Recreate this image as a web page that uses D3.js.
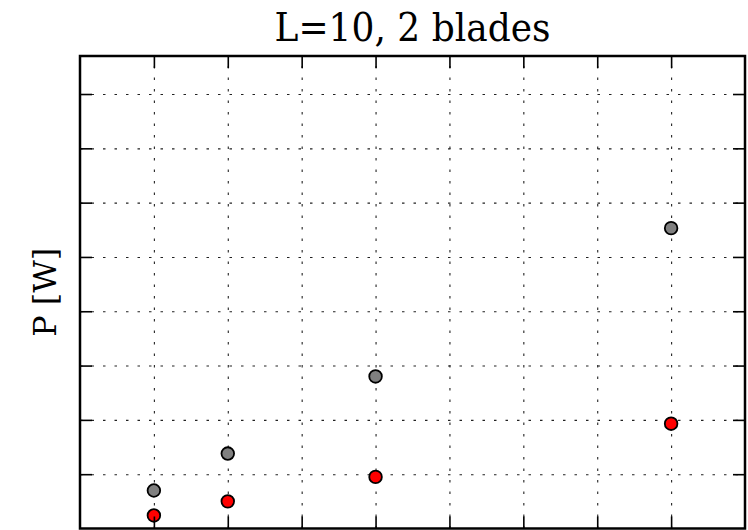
<!DOCTYPE html>
<html>
<head>
<meta charset="utf-8">
<script src="https://cdn.jsdelivr.net/npm/d3@7"></script>
<style>
  body { margin: 0; background: #fff; }
  svg { display: block; }
</style>
</head>
<body>
<svg id="chart" width="748" height="530"></svg>
<script>
// x positions of the runs and power on y (no tick labels in the source)
const xVals = [1, 2, 4, 8];
const grayVals = [0.70, 1.38, 2.80, 5.53];
const redVals = [0.24, 0.50, 0.95, 1.93];
const xTicks = [1, 2, 3, 4, 5, 6, 7, 8];
const yTicks = [1, 2, 3, 4, 5, 6, 7, 8];

const svg = d3.select("#chart");
const margin = { left: 80, right: 3, top: 56, bottom: 1.5 };
const W = 748, H = 530;

const x = d3.scaleLinear().domain([0, 9]).range([margin.left, W - margin.right]);
const y = d3.scaleLinear().domain([0, 8.7]).range([H - margin.bottom, margin.top]);

const plotW = x.range()[1] - x.range()[0];
const plotH = y.range()[0] - y.range()[1];

// dotted grid
const grid = svg.append("g").attr("class", "grid");
grid.append("g")
    .attr("transform", `translate(0,${y.range()[0]})`)
    .call(d3.axisBottom(x).tickValues(xTicks).tickSize(-plotH).tickFormat(""));
grid.append("g")
    .attr("transform", `translate(${x.range()[0]},0)`)
    .call(d3.axisLeft(y).tickValues(yTicks).tickSize(-plotW).tickFormat(""));
grid.selectAll(".domain").remove();
grid.selectAll("line")
    .attr("stroke", "#222")
    .attr("stroke-width", 1.1)
    .attr("stroke-dasharray", "2.5,9");

// points
const pts = svg.append("g");
pts.selectAll("circle.gray")
    .data(xVals.map((d, i) => [d, grayVals[i]]))
    .enter().append("circle")
    .attr("class", "gray")
    .attr("cx", d => x(d[0]))
    .attr("cy", d => y(d[1]))
    .attr("r", 6.3)
    .attr("fill", "#808080")
    .attr("stroke", "#000")
    .attr("stroke-width", 1.8);

pts.selectAll("circle.red")
    .data(xVals.map((d, i) => [d, redVals[i]]))
    .enter().append("circle")
    .attr("class", "red")
    .attr("cx", d => x(d[0]))
    .attr("cy", d => y(d[1]))
    .attr("r", 6.3)
    .attr("fill", "#ff0000")
    .attr("stroke", "#000")
    .attr("stroke-width", 1.8);

// inward ticks on all four sides
const tickLen = 12;
const axes = svg.append("g").attr("class", "ticks");
axes.append("g")
    .attr("transform", `translate(0,${y.range()[0]})`)
    .call(d3.axisBottom(x).tickValues(xTicks).tickSize(-tickLen).tickFormat(""));
axes.append("g")
    .attr("transform", `translate(0,${y.range()[1]})`)
    .call(d3.axisTop(x).tickValues(xTicks).tickSize(-tickLen).tickFormat(""));
axes.append("g")
    .attr("transform", `translate(${x.range()[0]},0)`)
    .call(d3.axisLeft(y).tickValues(yTicks).tickSize(-tickLen).tickFormat(""));
axes.append("g")
    .attr("transform", `translate(${x.range()[1]},0)`)
    .call(d3.axisRight(y).tickValues(yTicks).tickSize(-tickLen).tickFormat(""));
axes.selectAll(".domain").remove();
axes.selectAll("line").attr("stroke", "#000").attr("stroke-width", 1.6);

// frame
svg.append("rect")
    .attr("x", x.range()[0])
    .attr("y", y.range()[1])
    .attr("width", plotW)
    .attr("height", plotH)
    .attr("fill", "none")
    .attr("stroke", "#000")
    .attr("stroke-width", 2.5);

// title + y label
svg.append("text")
    .attr("x", (x.range()[0] + x.range()[1]) / 2)
    .attr("y", 41)
    .attr("text-anchor", "middle")
    .attr("font-family", "DejaVu Serif, serif")
    .attr("font-size", 39)
    .attr("textLength", 276)
    .attr("lengthAdjust", "spacingAndGlyphs")
    .attr("fill", "#000")
    .text("L=10, 2 blades");

svg.append("text")
    .attr("transform", `translate(56,${(y.range()[0] + y.range()[1]) / 2}) rotate(-90)`)
    .attr("text-anchor", "middle")
    .attr("font-family", "DejaVu Serif, serif")
    .attr("font-size", 32)
    .attr("textLength", 89)
    .attr("lengthAdjust", "spacingAndGlyphs")
    .attr("fill", "#000")
    .text("P [W]");
</script>
</body>
</html>
